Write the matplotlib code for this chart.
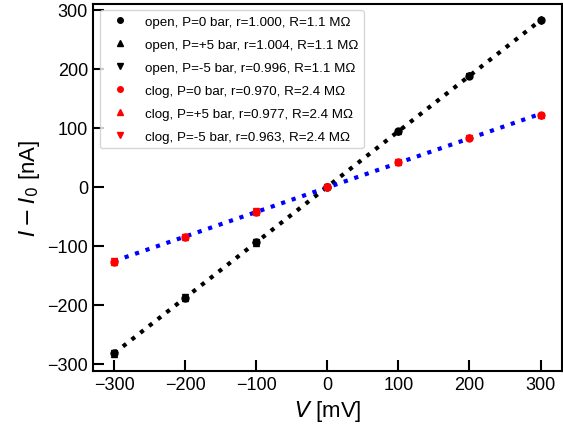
import numpy as np
import matplotlib.pyplot as plt

plt.rcParams['font.family'] = ['Liberation Sans', 'DejaVu Sans']

V = np.array([-300, -200, -100, 0, 100, 200, 300])

open_p0  = np.array([-282, -188, -94, 0, 94, 188, 282])
open_p5  = np.array([-283, -189, -94.5, 0.5, 94.5, 189, 283.5])
open_m5  = np.array([-281, -187, -93.5, -0.5, 93.5, 187, 281])
clog_p0  = np.array([-127, -85, -42, 0, 42, 83, 121])
clog_p5  = np.array([-128, -85.5, -42.5, 0.5, 42.5, 83.5, 122])
clog_m5  = np.array([-126, -84.5, -41.5, -0.5, 41.5, 82.5, 120])

labels = ['open, P=0 bar, r=1.000, R=1.1 M\u03a9',
          'open, P=+5 bar, r=1.004, R=1.1 M\u03a9',
          'open, P=-5 bar, r=0.996, R=1.1 M\u03a9',
          'clog, P=0 bar, r=0.970, R=2.4 M\u03a9',
          'clog, P=+5 bar, r=0.977, R=2.4 M\u03a9',
          'clog, P=-5 bar, r=0.963, R=2.4 M\u03a9']

fig = plt.figure(figsize=(5.63, 4.35), dpi=100)
ax = fig.add_axes([0.165, 0.145, 0.833, 0.844])

xs = np.linspace(-300, 300, 50)
k_open = np.polyfit(V, open_p0, 1)
k_clog = np.polyfit(V, clog_p0, 1)
ax.plot(xs, np.polyval(k_open, xs), ':', color='black', lw=3, zorder=1)
ax.plot(xs, np.polyval(k_clog, xs), ':', color='blue', lw=3, zorder=1)

series = [open_p0, open_p5, open_m5, clog_p0, clog_p5, clog_m5]
markers = ['o', '^', 'v', 'o', '^', 'v']
colors = ['black'] * 3 + ['red'] * 3
for y, m, c, lab in zip(series, markers, colors, labels):
    ax.plot(V, y, m, color=c, ms=5, label=lab, zorder=2)

ax.set_xlim(-330, 330)
ax.set_ylim(-312, 310)
ax.set_xticks([-300, -200, -100, 0, 100, 200, 300])
ax.set_yticks([-300, -200, -100, 0, 100, 200, 300])
ax.tick_params(direction='in', length=8, width=1.5, labelsize=13)
for s in ax.spines.values():
    s.set_linewidth(1.5)
ax.set_xlabel('$V$ [mV]', fontsize=16)
ax.set_ylabel('$I-I_0$ [nA]', fontsize=16)
ax.legend(loc='upper left', fontsize=9.6, markerscale=0.8, handlelength=2.2,
          labelspacing=0.8)

fig.savefig('out.png')
